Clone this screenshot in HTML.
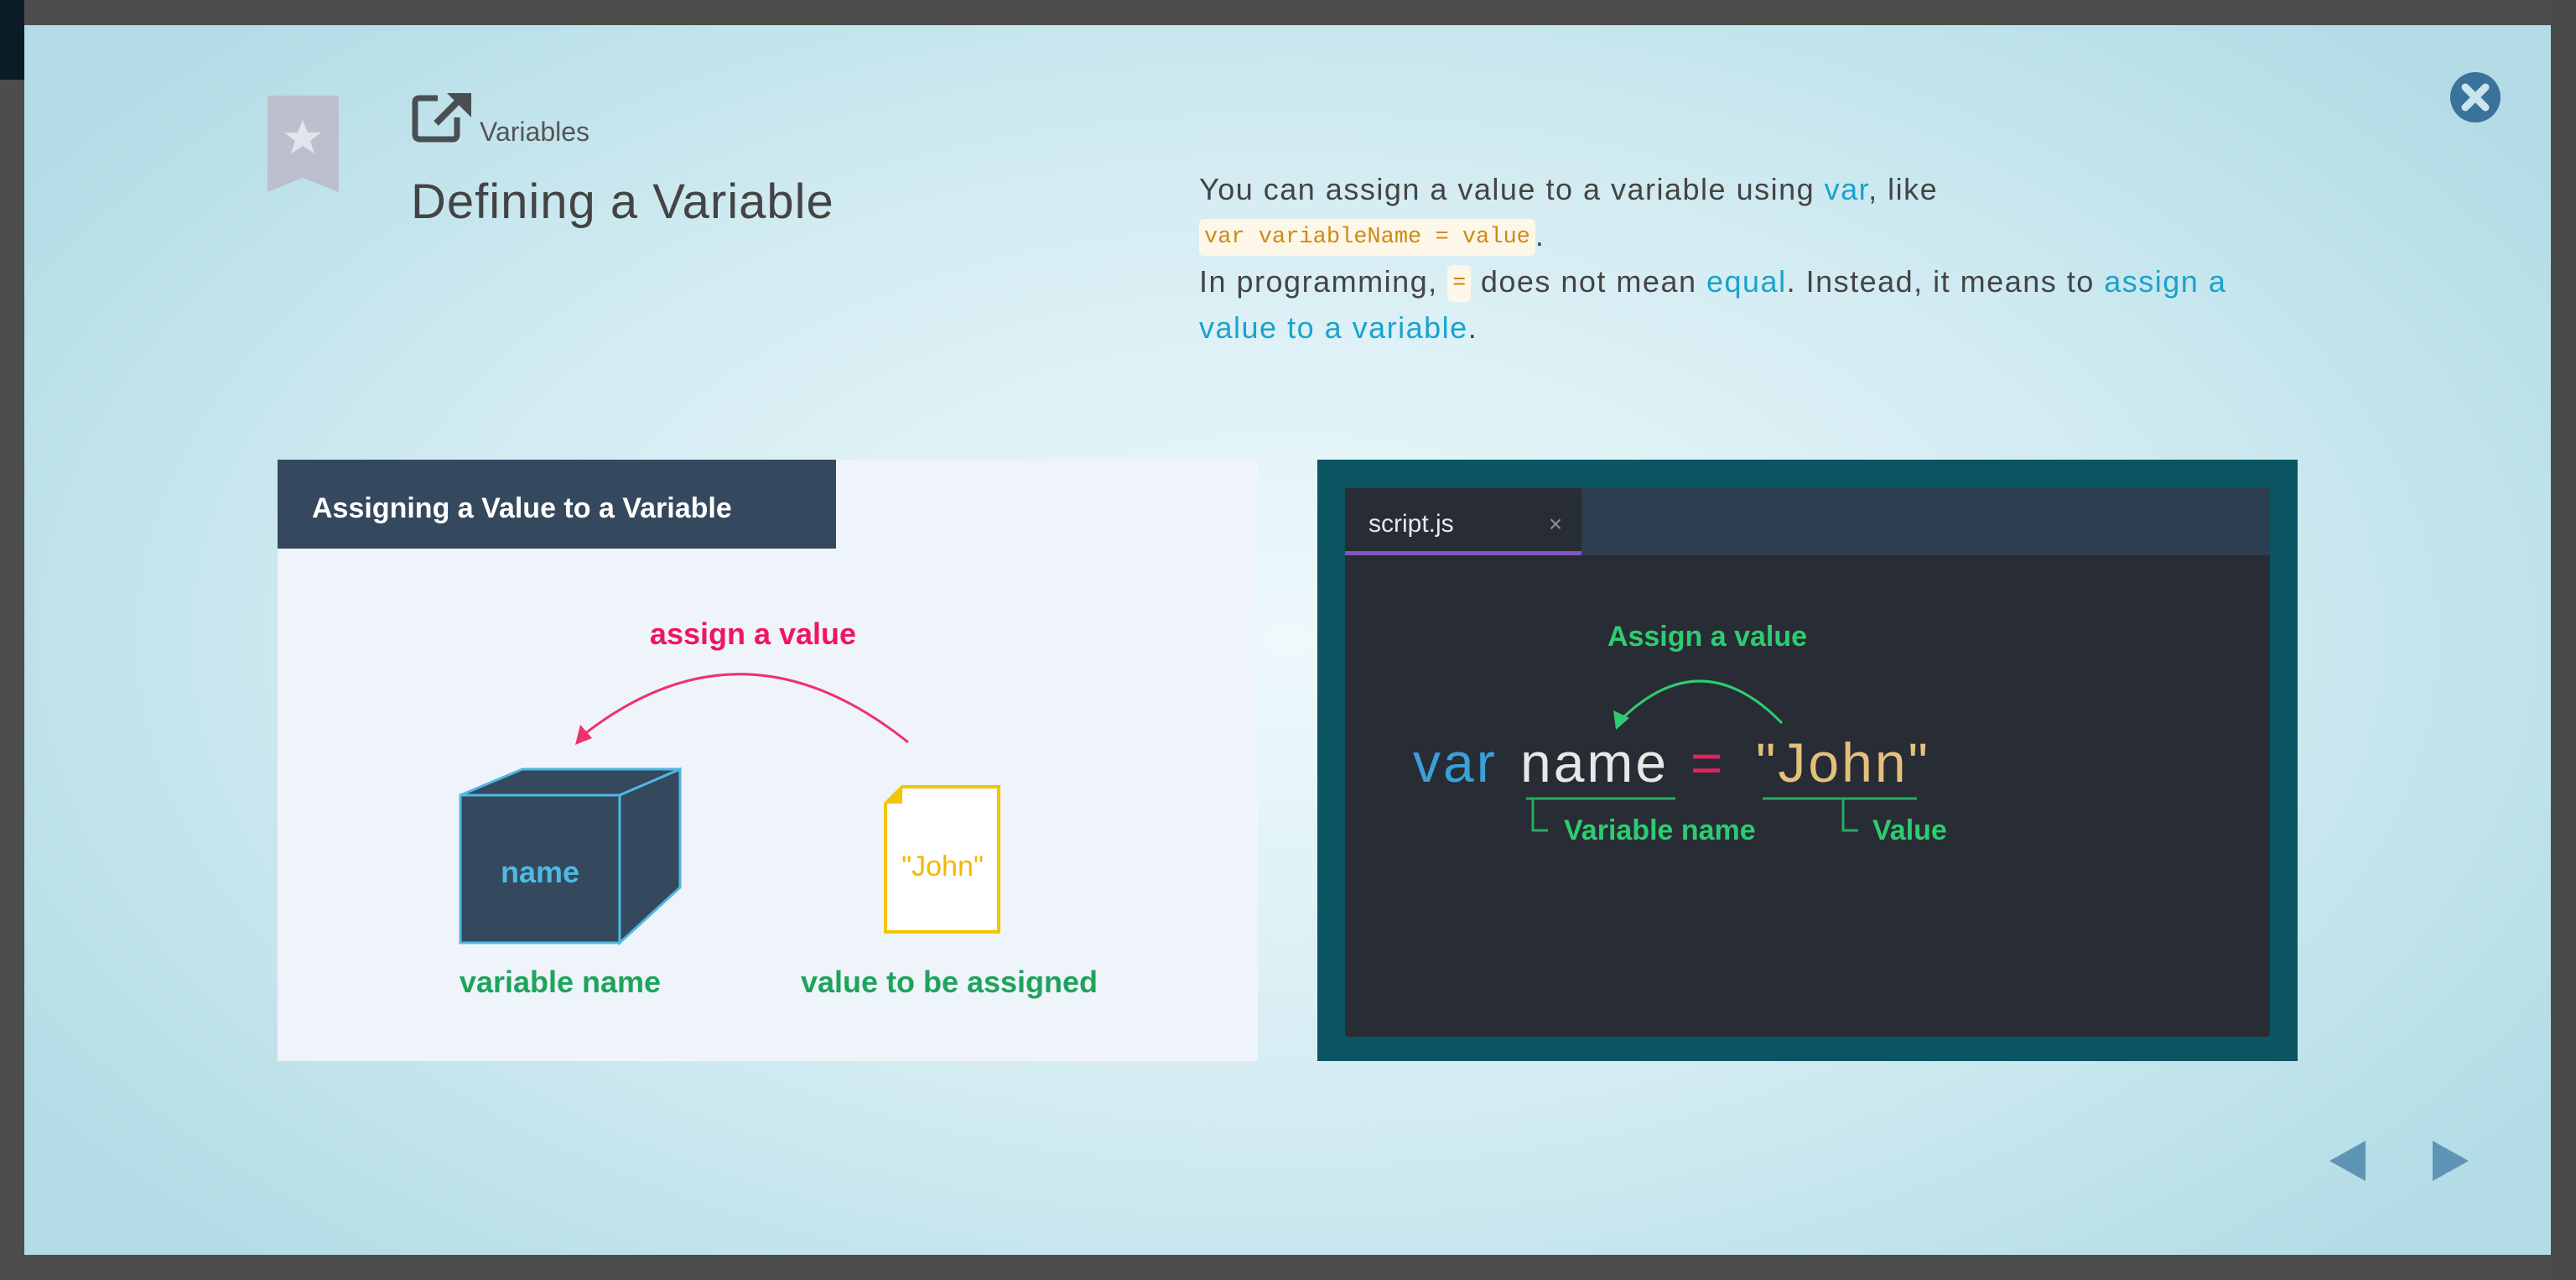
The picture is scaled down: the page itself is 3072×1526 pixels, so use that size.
<!DOCTYPE html>
<html><head><meta charset="utf-8"><style>
html,body{margin:0;padding:0;width:3072px;height:1526px;overflow:hidden;background:#4d4d4d;font-family:"Liberation Sans",sans-serif;}
.modal{position:absolute;left:29px;top:30px;width:3013px;height:1466px;background:radial-gradient(ellipse 60% 70% at 50% 50%,#eef9fc 0%,#d3ecf2 55%,#b3dce6 100%);}
.p{position:absolute;left:1430px;top:198px;font-size:36px;letter-spacing:1.5px;line-height:55px;color:#444;}
.b{color:#1aa3cc}
code{font-family:"Liberation Mono",monospace;font-size:27px;line-height:40px;display:inline-block;color:#d08a10;background:#fdf7ea;border-radius:6px;padding:2px 6px;letter-spacing:0;vertical-align:middle}
</style></head><body>
<div style="position:absolute;left:0;top:0;width:29px;height:95px;background:#0b1c26"></div>
<div style="position:absolute;left:3042px;top:0;width:30px;height:1526px;background:#4a4a4a"></div>
<div class="modal"></div>
<svg width="3072" height="1526" style="position:absolute;left:0;top:0">
<path d="M319 114 H404 V229 L361 212 L319 229 Z" fill="#bcc0cc"/>
<polygon points="361,143 367,158 383,158 370,168 375,183 361,174 347,183 352,168 339,158 355,158" fill="#e2e5ec"/>
<path d="M522 117 H500 Q495 117 495 122 V160 Q495 166 501 166 H540 Q545 166 545 160 V140" fill="none" stroke="#4a4f52" stroke-width="7"/>
<path d="M520 147 L552 115" stroke="#4a4f52" stroke-width="8"/>
<polygon points="533,111 562,111 562,140" fill="#4a4f52"/>
<text x="572" y="168" font-size="32" fill="#555">Variables</text>
<text x="490" y="260" font-size="58" fill="#444" style="letter-spacing:1px">Defining a Variable</text>
<circle cx="2952" cy="116" r="30" fill="#3a729c"/>
<path d="M2940 104 L2964 128 M2964 104 L2940 128" stroke="#c9e6ef" stroke-width="9" stroke-linecap="round"/>
<polygon points="2778,1384 2821,1360 2821,1408" fill="#5e95b5"/>
<polygon points="2901,1360 2944,1384 2901,1408" fill="#5e95b5"/>
<rect x="331" y="548" width="1169" height="717" fill="#eef4fa"/>
<rect x="331" y="548" width="666" height="106" fill="#34495e"/>
<text x="372" y="617" font-size="34" font-weight="bold" fill="#fff">Assigning a Value to a Variable</text>
<text x="898" y="768" font-size="36" font-weight="bold" fill="#f0155f" text-anchor="middle">assign a value</text>
<path d="M1083 885 Q886 727 696 876" fill="none" stroke="#f0306f" stroke-width="3"/>
<polygon points="686,888 692,864 706,880" fill="#f0306f"/>
<polygon points="549,948 623,917 811,917 739,948" fill="#34495e" stroke="#4fb8e3" stroke-width="3"/>
<polygon points="739,948 811,917 811,1058 739,1124" fill="#34495e" stroke="#4fb8e3" stroke-width="3"/>
<rect x="549" y="948" width="190" height="176" fill="#34495e" stroke="#4fb8e3" stroke-width="3"/>
<text x="644" y="1052" font-size="36" font-weight="bold" fill="#4fb8e3" text-anchor="middle">name</text>
<path d="M1076 938 H1191 V1111 H1056 V958 Z" fill="#fff" stroke="#f2c500" stroke-width="4"/>
<polygon points="1056,958 1076,938 1076,958" fill="#f2c500"/>
<text x="1124" y="1044" font-size="34" fill="#f2b800" text-anchor="middle">"John"</text>
<text x="668" y="1183" font-size="36" font-weight="bold" fill="#1fa35c" text-anchor="middle">variable name</text>
<text x="1132" y="1183" font-size="36" font-weight="bold" fill="#1fa35c" text-anchor="middle">value to be assigned</text>
<rect x="1571" y="548" width="1169" height="717" fill="#0a5561"/>
<rect x="1604" y="582" width="1103" height="654" rx="4" fill="#282c34"/>
<rect x="1604" y="582" width="1103" height="80" fill="#2c3e50"/>
<rect x="1604" y="582" width="282" height="80" fill="#282c34"/>
<rect x="1604" y="657" width="282" height="5" fill="#7e57c2"/>
<text x="1632" y="634" font-size="30" fill="#e8e8e8">script.js</text>
<text x="1855" y="634" font-size="28" fill="#8a8f98" text-anchor="middle">×</text>
<text x="2036" y="770" font-size="34" font-weight="bold" fill="#2ecc71" text-anchor="middle">Assign a value</text>
<path d="M2125 862 Q2029 764 1933 858" fill="none" stroke="#2ecc71" stroke-width="3"/>
<polygon points="1927,870 1924,847 1943,856" fill="#2ecc71"/>
<text y="932" font-size="66" style="letter-spacing:3px"><tspan x="1685" fill="#3aa0d8">var</tspan><tspan x="1813" fill="#e8e8e8">name</tspan><tspan x="2016" fill="#e0245e">=</tspan><tspan x="2094" fill="#e5c07b">"John"</tspan></text>
<path d="M1820 952 H1998 M2102 952 H2286" stroke="#27ae60" stroke-width="3"/>
<path d="M1828 952 V990 H1846 M2198 952 V990 H2216" fill="none" stroke="#27ae60" stroke-width="3"/>
<text x="1865" y="1001" font-size="34" font-weight="bold" fill="#2ecc71">Variable name</text>
<text x="2233" y="1001" font-size="34" font-weight="bold" fill="#2ecc71">Value</text>
</svg>
<div class="p">You can assign a value to a variable using <span class="b">var</span>, like<br><code>var variableName = value</code>.<br>In programming, <code>=</code> does not mean <span class="b">equal</span>. Instead, it means to <span class="b">assign a</span><br><span class="b">value to a variable</span>.</div>
</body></html>
